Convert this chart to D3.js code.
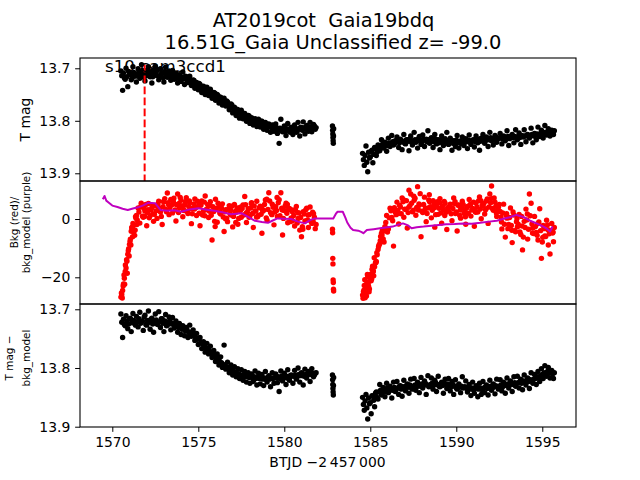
<!DOCTYPE html>
<html><head><meta charset="utf-8">
<script src="https://cdn.jsdelivr.net/npm/d3@7/dist/d3.min.js"></script>
<style>
html,body{margin:0;padding:0;background:#fff;}
text{font-family:"DejaVu Sans",sans-serif;}
</style></head>
<body>
<svg id="chart" width="640" height="480"></svg>
<script>
// ---------------- DATA ----------------
const titleLines = ["AT2019cot  Gaia19bdq", "16.51G_Gaia Unclassified z= -99.0"];
const sectorLabel = "s10 cam3ccd1";
const xLabel = "BTJD \u22122\u2009457\u2009000";
const xTicks = [1570, 1575, 1580, 1585, 1590, 1595];
const magTicks = [13.7, 13.8, 13.9];
const bkgTicks = [-20, 0];
const peakTime = 1571.88;

// samples every 0.1 d (pass A) and, offset by 0.05 d, pass B
const cadence = 0.1;
const seg1Start = 1570.5;
const seg2Start = 1584.55;
const passBOffset = 0.05;
const gapTimes = [1582.80, 1582.81, 1582.82, 1582.83, 1582.84, 1582.85, 1582.86, 1582.87];

// Top panel: T mag
const tmagSeg1 = [
13.705,13.742,13.718,13.700,13.735,13.709,13.722,13.697,13.714,13.726,
13.701,13.719,13.693,13.712,13.724,13.704,13.697,13.716,13.728,13.703,
13.696,13.714,13.722,13.701,13.709,13.726,13.698,13.717,13.705,13.723,
13.704,13.721,13.709,13.728,13.712,13.725,13.707,13.731,13.716,13.727,
13.715,13.733,13.722,13.738,13.727,13.741,13.731,13.746,13.734,13.750,
13.736,13.752,13.740,13.757,13.746,13.761,13.750,13.766,13.755,13.770,
13.757,13.772,13.764,13.779,13.768,13.785,13.774,13.790,13.779,13.795,
13.780,13.796,13.786,13.801,13.790,13.805,13.794,13.808,13.796,13.811,
13.797,13.812,13.801,13.816,13.803,13.818,13.806,13.822,13.808,13.820,
13.806,13.824,13.843,13.797,13.821,13.810,13.828,13.805,13.819,13.812,
13.826,13.808,13.822,13.803,13.829,13.813,13.802,13.825,13.809,13.820,
13.803,13.821,13.807,13.816];
const tmagSeg1B = [
13.714,13.709,13.721,13.716,13.706,13.712,13.719,13.708,13.715,13.711,
13.707,13.713,13.704,13.717,13.710,13.714,13.706,13.709,13.716,13.711,
13.708,13.703,13.715,13.711,13.718,13.706,13.713,13.709,13.716,13.712,
13.716,13.711,13.719,13.714,13.722,13.717,13.720,13.715,13.724,13.722,
13.725,13.729,13.723,13.731,13.734,13.729,13.737,13.735,13.742,13.739,
13.745,13.741,13.748,13.752,13.747,13.755,13.752,13.759,13.762,13.758,
13.766,13.762,13.769,13.773,13.770,13.777,13.781,13.778,13.784,13.787,
13.789,13.786,13.792,13.795,13.791,13.798,13.797,13.802,13.799,13.804,
13.806,13.801,13.808,13.805,13.811,13.807,13.810,13.813,13.809,13.815,
13.813,13.817,13.814,13.819,13.816,13.821,13.815,13.818,13.822,13.817,
13.817,13.814,13.820,13.815,13.812,13.818,13.813,13.816,13.811,13.814,
13.812,13.815,13.810,13.813];
const tmagGap = [13.810,13.818,13.825,13.832,13.838,13.843,13.829,13.815];
const tmagSeg2 = [
13.862,13.885,13.848,13.897,13.871,13.858,13.880,13.851,13.866,13.846,
13.857,13.836,13.852,13.841,13.858,13.833,13.849,13.828,13.846,13.838,
13.831,13.851,13.835,13.855,13.826,13.844,13.836,13.857,13.829,13.846,
13.822,13.841,13.852,13.830,13.845,13.827,13.849,13.835,13.819,13.843,
13.832,13.851,13.826,13.844,13.836,13.855,13.829,13.847,13.834,13.822,
13.845,13.833,13.856,13.838,13.849,13.828,13.852,13.840,13.831,13.847,
13.834,13.853,13.827,13.845,13.837,13.850,13.829,13.842,13.856,13.833,
13.826,13.843,13.831,13.849,13.822,13.838,13.846,13.828,13.841,13.833,
13.824,13.844,13.829,13.838,13.819,13.847,13.832,13.826,13.842,13.817,
13.836,13.823,13.845,13.829,13.817,13.840,13.826,13.833,13.814,13.842,
13.824,13.836,13.812,13.830,13.818,13.833,13.809,13.827,13.815,13.829,
13.818,13.826];
const tmagSeg2B = [
13.874,13.866,13.879,13.860,13.869,13.856,13.864,13.853,13.859,13.850,
13.849,13.845,13.851,13.843,13.847,13.842,13.845,13.840,13.844,13.841,
13.838,13.842,13.837,13.840,13.843,13.836,13.839,13.835,13.841,13.838,
13.836,13.839,13.834,13.838,13.841,13.835,13.837,13.840,13.836,13.839,
13.837,13.840,13.835,13.839,13.842,13.837,13.840,13.836,13.841,13.838,
13.841,13.838,13.843,13.840,13.837,13.842,13.839,13.844,13.840,13.838,
13.840,13.837,13.841,13.838,13.836,13.840,13.837,13.835,13.839,13.836,
13.835,13.838,13.834,13.836,13.832,13.837,13.834,13.831,13.835,13.833,
13.832,13.835,13.831,13.833,13.830,13.834,13.829,13.832,13.830,13.833,
13.830,13.832,13.828,13.831,13.829,13.827,13.830,13.828,13.826,13.829,
13.827,13.825,13.828,13.824,13.826,13.822,13.825,13.821,13.823,13.820,
13.822,13.819];

// Middle panel: background flux (red)
const bkgSeg1 = [
-26.8,-24.5,-20.3,-16.8,-12.1,-8.7,-4.2,-1.5,-5.6,1.2,
3.8,-1.4,4.9,0.6,2.7,-2.3,5.3,1.1,3.9,-0.8,
4.6,0.2,6.1,2.4,-1.9,5.8,3.3,8.9,1.5,6.7,
2.1,5.2,-0.7,8.6,3.9,6.4,0.8,4.7,7.3,1.9,
5.5,-1.6,3.7,6.9,1.2,4.4,-2.3,6.2,2.8,7.9,
3.4,0.5,5.9,-7.2,2.6,6.8,-1.1,4.1,1.7,5.2,
-4.3,3.2,-0.9,4.6,1.4,-2.7,5.0,2.3,-1.8,3.9,
0.6,4.8,7.7,-1.2,3.5,1.0,5.6,-2.9,2.7,6.1,
1.3,4.4,-4.9,3.0,6.5,-0.4,9.0,2.2,5.1,-2.0,
4.2,0.9,6.6,9.0,-5.5,2.9,5.4,-1.3,3.6,0.4,
3.1,-2.4,4.3,0.2,-3.8,-6.1,2.5,-0.7,3.7,-2.9,
4.1,-1.5,1.8,-3.3];
const bkgSeg1B = [
-25.9,-22.3,-18.0,-14.5,-10.2,-6.9,-2.8,-4.4,0.8,-0.3,
2.4,4.1,1.0,3.6,5.0,2.2,0.4,3.1,4.4,1.6,
2.8,5.1,3.7,0.9,4.2,7.0,2.5,5.6,3.9,4.8,
6.0,3.1,4.9,2.2,7.4,4.5,3.0,5.9,2.6,4.3,
3.5,1.8,5.2,3.9,6.1,2.0,4.7,1.4,5.8,3.2,
4.9,2.7,1.3,4.2,-0.8,3.6,5.4,2.1,3.8,0.7,
2.5,0.3,3.4,1.8,4.4,0.9,2.6,3.8,0.2,2.9,
3.6,1.4,4.9,2.3,0.6,3.8,1.9,4.5,2.8,0.8,
3.9,1.6,2.7,5.0,0.4,3.3,6.2,1.8,4.0,2.4,
2.9,5.6,1.1,3.7,0.2,4.5,2.0,3.3,-0.9,2.6,
1.2,3.0,-1.4,2.1,0.5,-2.6,1.7,3.2,-0.3,1.5,
-0.8,2.3,0.6,-1.9];
const bkgGap = [-3.5,-4.7,-13.5,-15.4,-20.9,-21.8,-24.1,-24.7];
const bkgSeg2 = [
-26.1,-22.8,-25.3,-19.8,-24.0,-21.2,-18.3,-16.4,-14.6,-10.5,
-8.5,-4.9,-6.8,-2.6,1.2,-3.4,3.7,0.5,-9.3,2.4,
5.8,-1.7,4.1,7.2,0.6,3.3,-3.1,9.9,8.6,2.5,
6.4,1.3,11.1,4.7,-6.1,2.2,7.5,-0.9,3.8,5.9,
0.4,6.3,-2.8,4.5,1.6,7.0,-1.4,3.1,5.4,-3.6,
2.7,5.1,-0.6,7.2,1.9,-4.1,4.8,0.3,6.1,2.0,
-1.8,4.3,6.7,1.0,3.6,-2.5,5.5,2.4,7.6,0.1,
4.6,1.7,6.2,-1.5,8.6,11.3,3.0,5.8,0.9,4.0,
2.6,-3.4,5.1,-6.2,0.3,-1.9,3.8,-8.1,1.4,-4.4,
-2.7,1.6,-5.3,-10.6,-0.8,3.4,-6.9,8.6,5.4,-3.1,
0.9,-4.6,-7.2,3.5,-13.5,-2.2,-5.8,-0.4,-8.9,-12.0,
-1.5,-7.8];
const bkgSeg2B = [
-24.9,-27.0,-21.6,-23.1,-20.4,-17.2,-19.5,-15.0,-12.3,-9.0,
-6.0,-3.9,-7.9,-1.2,-4.5,0.4,2.8,-0.6,3.9,1.5,
2.9,4.7,1.8,5.9,3.4,6.3,2.2,4.6,5.4,3.0,
7.1,4.0,3.1,8.7,2.7,5.0,3.6,1.9,6.5,4.2,
3.0,4.8,1.5,5.9,3.7,2.1,4.4,6.0,2.3,3.9,
4.1,1.8,3.6,5.3,2.4,4.7,1.2,3.9,5.0,2.8,
3.8,2.0,4.9,3.1,5.8,2.6,4.1,6.3,3.4,4.7,
5.3,3.2,6.9,4.1,5.6,3.6,7.2,4.4,2.9,5.0,
0.7,2.1,-1.8,1.4,-3.3,0.5,-2.2,2.4,-4.0,-0.9,
-1.8,-4.4,0.9,-6.2,-2.9,-0.3,-3.5,1.1,-1.7,-5.0,
-2.6,-5.6,-1.0,-4.0,-7.9,-3.3,-6.0,-2.0,-5.1,-3.9,
-4.8,-2.9];
// additional background samples along the steep ramps and dense stretches
const bkgExtraT = [
1570.53,1570.58,1570.63,1570.68,1570.72,1570.76,1570.83,1570.87,1570.93,1570.98,1571.03,1571.08,1571.13,1571.18,1571.23,1571.33,1571.38,1571.43,
1584.58,1584.63,1584.68,1584.73,1584.78,1584.83,1584.88,1584.93,1585.03,1585.08,1585.13,1585.18,1585.23,1585.33,1585.38,1585.48,1585.58,1585.68,1585.78,1585.88,
1571.68,1571.88,1572.08,1572.38,1572.68,1572.98,1573.28,1573.58,1573.88,1574.18,1574.48,1574.78,1575.08,1575.38,1575.68,1575.98,1576.28,1576.58,1576.88,1577.18,1577.48,1577.78,1578.08,1578.38,1578.68,1578.98,1579.28,1579.58,1579.88,1580.18,1580.48,1580.78,1581.08,1581.38,1581.68,
1586.63,1586.93,1587.23,1587.53,1587.83,1588.13,1588.43,1588.73,1589.03,1589.33,1589.63,1589.93,1590.23,1590.53,1590.83,1591.13,1591.43,1591.73,1592.03,1592.33,1592.63,1592.93,1593.23,1593.53,1593.83,1594.13,1594.43,1594.73,1595.03,1595.33,1595.63];
const bkgExtraV = [
-25.4,-27.1,-23.0,-19.2,-22.4,-15.8,-14.0,-18.6,-10.9,-12.7,-7.6,-8.9,-3.0,-6.1,-2.2,-3.8,0.3,-1.9,
-27.2,-24.4,-20.8,-23.6,-26.4,-19.0,-22.2,-25.0,-18.9,-20.6,-16.2,-17.8,-13.3,-14.9,-11.6,-9.5,-7.4,-5.5,-4.1,-3.0,
5.4,0.9,3.2,1.7,3.9,6.0,4.8,7.1,5.3,2.9,6.2,3.4,5.7,1.1,4.6,-2.6,2.4,0.1,3.0,-1.2,4.1,2.0,5.3,0.7,3.6,6.8,1.5,7.4,3.1,5.0,-0.6,2.2,-3.5,1.4,-0.9,
1.9,6.6,4.0,7.8,5.2,2.6,8.3,3.9,5.6,1.2,4.4,5.9,3.1,0.8,5.0,2.3,6.3,3.5,7.0,2.1,-1.0,1.8,-3.9,0.2,-2.4,1.7,-4.8,-1.6,-6.3,-3.7,-4.5];

// Middle panel: background model (purple)
const modelT = [1569.45,1569.55,1569.65,1569.8,1570.0,1570.3,1570.6,1570.9,1571.2,1571.5,1571.8,1572.1,1572.3,1572.5,1572.8,1573.2,1573.6,1574.0,1574.5,1575.0,1575.5,1575.95,1576.4,1576.9,1577.2,1577.5,1577.9,1578.3,1578.7,1579.05,1579.3,1579.6,1580.0,1580.4,1580.8,1581.2,1581.5,1581.77,1582.3,1582.85,1583.0,1583.1,1583.4,1583.55,1583.66,1583.85,1584.0,1584.3,1584.5,1584.6,1584.8,1585.2,1585.56,1585.9,1586.3,1586.6,1586.9,1587.2,1587.4,1587.7,1588.1,1588.7,1589.4,1589.9,1590.4,1590.9,1591.4,1591.9,1592.35,1592.7,1593.1,1593.5,1593.9,1594.3,1594.7,1595.06,1595.3,1595.45,1595.6];
const modelV = [6.8,7.9,6.3,5.6,4.6,4.1,3.5,3.1,3.6,4.0,4.7,5.6,5.5,5.4,3.1,2.8,3.0,2.5,3.3,3.7,3.2,2.8,2.3,1.6,1.8,2.0,0.7,-0.6,-1.0,-1.3,-0.6,0.2,0.1,0.0,-0.9,-1.5,-0.4,0.2,0.2,0.2,1.8,2.5,2.5,0.5,-1.2,-3.0,-3.8,-4.0,-4.5,-4.9,-3.8,-3.5,-3.2,-2.9,-2.6,-2.0,-1.5,-2.2,-3.2,-2.8,-2.6,-2.2,-1.8,-1.7,-1.5,-1.6,-1.3,-0.9,-0.6,0.0,0.6,1.4,0.7,-0.6,-1.6,-2.6,-3.5,-4.3,-2.6];

// Bottom panel: T mag - bkg_model
const corrSeg1 = [
13.708,13.748,13.726,13.711,13.733,13.716,13.738,13.707,13.724,13.712,
13.730,13.705,13.721,13.736,13.710,13.727,13.703,13.734,13.715,13.739,
13.708,13.725,13.704,13.731,13.716,13.738,13.709,13.727,13.713,13.735,
13.714,13.732,13.720,13.739,13.724,13.743,13.728,13.745,13.731,13.748,
13.727,13.746,13.735,13.753,13.741,13.760,13.748,13.767,13.755,13.773,
13.758,13.776,13.763,13.782,13.770,13.789,13.776,13.795,13.781,13.799,
13.761,13.802,13.790,13.808,13.795,13.812,13.798,13.815,13.801,13.818,
13.803,13.821,13.806,13.824,13.808,13.826,13.810,13.823,13.805,13.829,
13.809,13.827,13.811,13.830,13.806,13.824,13.813,13.832,13.808,13.826,
13.810,13.825,13.840,13.805,13.822,13.809,13.828,13.803,13.821,13.812,
13.826,13.804,13.819,13.800,13.824,13.808,13.829,13.802,13.817,13.806,
13.823,13.801,13.815,13.809];
const corrSeg1B = [
13.722,13.717,13.728,13.720,13.725,13.715,13.723,13.719,13.727,13.721,
13.716,13.724,13.720,13.713,13.726,13.719,13.722,13.717,13.725,13.721,
13.718,13.726,13.721,13.716,13.724,13.720,13.728,13.722,13.719,13.725,
13.724,13.729,13.726,13.731,13.728,13.734,13.731,13.737,13.735,13.740,
13.739,13.744,13.742,13.748,13.751,13.749,13.756,13.759,13.762,13.766,
13.768,13.771,13.774,13.777,13.780,13.783,13.786,13.789,13.791,13.794,
13.796,13.798,13.800,13.802,13.804,13.806,13.807,13.809,13.810,13.812,
13.813,13.811,13.815,13.813,13.816,13.814,13.817,13.815,13.818,13.816,
13.818,13.816,13.819,13.817,13.820,13.816,13.819,13.817,13.818,13.816,
13.817,13.815,13.818,13.814,13.816,13.813,13.817,13.814,13.815,13.813,
13.814,13.812,13.815,13.811,13.813,13.810,13.814,13.811,13.812,13.810,
13.811,13.809,13.812,13.808];
const corrGap = [13.812,13.820,13.828,13.835,13.841,13.846,13.830,13.816];
const corrSeg2 = [
13.850,13.872,13.845,13.887,13.861,13.878,13.848,13.866,13.841,13.853,
13.828,13.846,13.833,13.849,13.826,13.842,13.831,13.851,13.824,13.840,
13.823,13.845,13.830,13.848,13.821,13.839,13.827,13.843,13.819,13.836,
13.818,13.838,13.824,13.842,13.816,13.834,13.822,13.845,13.813,13.831,
13.817,13.836,13.821,13.840,13.814,13.832,13.824,13.843,13.819,13.835,
13.818,13.839,13.823,13.845,13.820,13.836,13.827,13.842,13.815,13.833,
13.822,13.841,13.828,13.847,13.824,13.843,13.830,13.849,13.826,13.845,
13.823,13.842,13.829,13.846,13.821,13.838,13.827,13.844,13.819,13.836,
13.820,13.839,13.824,13.843,13.817,13.834,13.822,13.840,13.815,13.831,
13.814,13.834,13.819,13.837,13.812,13.829,13.817,13.835,13.808,13.826,
13.811,13.828,13.806,13.823,13.801,13.818,13.796,13.814,13.799,13.817,
13.804,13.818];
const corrSeg2B = [
13.862,13.856,13.868,13.851,13.859,13.847,13.855,13.843,13.850,13.841,
13.838,13.842,13.836,13.840,13.834,13.839,13.835,13.838,13.833,13.837,
13.834,13.831,13.836,13.832,13.835,13.830,13.833,13.829,13.834,13.831,
13.829,13.832,13.828,13.831,13.827,13.830,13.826,13.829,13.832,13.828,
13.826,13.829,13.825,13.828,13.831,13.827,13.830,13.826,13.829,13.827,
13.829,13.832,13.828,13.831,13.834,13.830,13.833,13.831,13.834,13.832,
13.835,13.833,13.836,13.834,13.837,13.835,13.833,13.836,13.834,13.837,
13.834,13.832,13.835,13.833,13.831,13.834,13.832,13.830,13.833,13.831,
13.829,13.832,13.828,13.830,13.827,13.829,13.826,13.828,13.825,13.827,
13.825,13.823,13.826,13.822,13.824,13.821,13.823,13.820,13.822,13.819,
13.818,13.815,13.817,13.813,13.811,13.808,13.810,13.806,13.809,13.807,
13.810,13.808];

// ---------------- BUILD ----------------
function series(seg1, seg1B, gap, seg2, seg2B) {
  const out = [];
  seg1.forEach((v, i) => out.push({t: seg1Start + i * cadence, v}));
  seg1B.forEach((v, i) => out.push({t: seg1Start + passBOffset + i * cadence, v}));
  gap.forEach((v, i) => out.push({t: gapTimes[i], v}));
  seg2.forEach((v, i) => out.push({t: seg2Start + i * cadence, v}));
  seg2B.forEach((v, i) => out.push({t: seg2Start + passBOffset + i * cadence, v}));
  return out;
}
const tmagData = series(tmagSeg1, tmagSeg1B, tmagGap, tmagSeg2, tmagSeg2B);
const bkgData = series(bkgSeg1, bkgSeg1B, bkgGap, bkgSeg2, bkgSeg2B)
  .concat(bkgExtraT.map((t, i) => ({t, v: bkgExtraV[i]})));
const modelData = modelT.map((t, i) => ({t, v: modelV[i]}));
const corrData = series(corrSeg1, corrSeg1B, corrGap, corrSeg2, corrSeg2B);

const svg = d3.select("#chart");
const L = 80, R = 576;
const panels = [
  {top: 58, bottom: 181, domain: [13.6804, 13.9147], ticks: magTicks, fmt: d3.format(".1f")},
  {top: 181, bottom: 304, domain: [13.04, -29.16], ticks: bkgTicks, fmt: d => d3.format("d")(d).replace("-", "\u2212")},
  {top: 304, bottom: 427, domain: [13.691, 13.9005], ticks: magTicks, fmt: d3.format(".1f")}
];
const x = d3.scaleLinear().domain([1568.122, 1596.96]).range([L, R]);
const defs = svg.append("defs");

const FS = "13.9px";
panels.forEach((p, k) => {
  p.y = d3.scaleLinear().domain(p.domain).range([p.top, p.bottom]);
  defs.append("clipPath").attr("id", "clip" + k)
    .append("rect").attr("x", L).attr("y", p.top).attr("width", R - L).attr("height", p.bottom - p.top);
  p.g = svg.append("g");
  p.plot = p.g.append("g").attr("clip-path", `url(#clip${k})`);
});

// y axes
panels.forEach(p => {
  const ax = d3.axisLeft(p.y).tickValues(p.ticks).tickFormat(p.fmt)
    .tickSize(4.86).tickPadding(4.86).tickSizeOuter(0);
  const g = p.g.append("g").attr("transform", `translate(${L},0)`).call(ax);
  g.select(".domain").remove();
  g.selectAll("text").style("font-size", FS).style("font-family", "DejaVu Sans").attr("fill", "#000");
  g.selectAll("line").attr("stroke", "#000").attr("stroke-width", 1);
});

// bottom x axis
{
  const p = panels[2];
  const ax = d3.axisBottom(x).tickValues(xTicks).tickFormat(d3.format("d"))
    .tickSize(4.86).tickPadding(4.86).tickSizeOuter(0);
  const g = svg.append("g").attr("transform", `translate(0,${p.bottom})`).call(ax);
  g.select(".domain").remove();
  g.selectAll("text").style("font-size", FS).style("font-family", "DejaVu Sans").attr("fill", "#000");
  g.selectAll("line").attr("stroke", "#000").attr("stroke-width", 1);
}

const R_DOT = 2.7;
// Top panel marks
const P0 = panels[0];
P0.plot.selectAll("circle").data(tmagData).join("circle")
  .attr("cx", d => x(d.t)).attr("cy", d => P0.y(d.v)).attr("r", R_DOT).attr("fill", "#000");
P0.plot.append("line")
  .attr("x1", x(peakTime)).attr("x2", x(peakTime))
  .attr("y1", P0.y(13.693)).attr("y2", P0.y(13.95))
  .attr("stroke", "#ff0000").attr("stroke-width", 2).attr("stroke-dasharray", "7.7,3.3");
P0.g.append("text").attr("x", 105).attr("y", 72).style("font-size", "16.67px").attr("fill", "#000").text(sectorLabel);

// Middle panel marks
const P1 = panels[1];
P1.plot.selectAll("circle").data(bkgData).join("circle")
  .attr("cx", d => x(d.t)).attr("cy", d => P1.y(d.v)).attr("r", R_DOT).attr("fill", "#ff0000");
P1.plot.append("path").datum(modelData)
  .attr("d", d3.line().x(d => x(d.t)).y(d => P1.y(d.v)))
  .attr("fill", "none").attr("stroke", "#bf00bf").attr("stroke-width", 2).attr("stroke-linejoin", "round");

// Bottom panel marks
const P2 = panels[2];
P2.plot.selectAll("circle").data(corrData).join("circle")
  .attr("cx", d => x(d.t)).attr("cy", d => P2.y(d.v)).attr("r", R_DOT).attr("fill", "#000");

// spines
panels.forEach(p => {
  p.g.append("rect").attr("x", L).attr("y", p.top).attr("width", R - L).attr("height", p.bottom - p.top)
    .attr("fill", "none").attr("stroke", "#000").attr("stroke-width", 1.1);
});

// titles & labels
svg.append("text").attr("x", 323.5).attr("y", 27).attr("text-anchor", "middle")
  .style("font-size", "19.44px").style("white-space", "pre").text(titleLines[0]);
svg.append("text").attr("x", 333).attr("y", 49).attr("text-anchor", "middle")
  .style("font-size", "19.44px").style("white-space", "pre").text(titleLines[1]);
svg.append("text").attr("x", 327.5).attr("y", 467).attr("text-anchor", "middle")
  .style("font-size", FS).text(xLabel);

function ylab(lines, xs, cy, fs) {
  lines.forEach((s, i) => {
    svg.append("text").attr("transform", `translate(${xs[i]},${cy}) rotate(-90)`)
      .attr("text-anchor", "middle").style("font-size", fs).text(s);
  });
}
ylab(["T mag"], [29.5], 119.5, FS);
ylab(["Bkg (red)/", "bkg_model (purple)"], [17.5, 29.5], 222.5, "10.4px");
ylab(["T mag \u2212", "bkg_model"], [12.6, 29.5], 358, "10.4px");
</script>
</body></html>
